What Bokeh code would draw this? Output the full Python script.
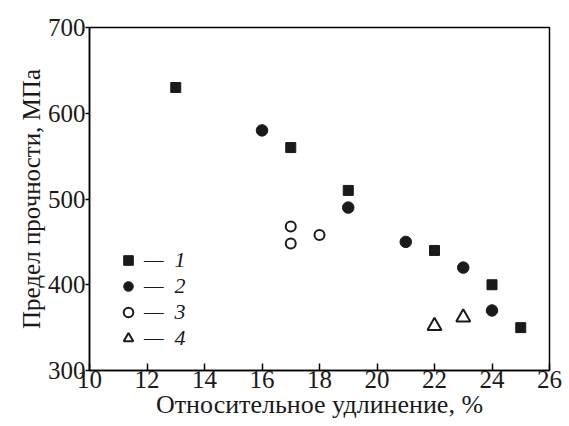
from bokeh.plotting import figure
from bokeh.models import Legend, LegendItem, FixedTicker, Range1d
from bokeh.embed import file_html
from bokeh.resources import INLINE

# Series data (elongation %, strength MPa)
s1_x = [13, 17, 19, 22, 24, 25]
s1_y = [630, 560, 510, 440, 400, 350]
s2_x = [16, 19, 21, 23, 24]
s2_y = [580, 490, 450, 420, 370]
s3_x = [17, 17, 18]
s3_y = [468, 448, 458]
s4_x = [22, 23]
s4_y = [352, 362]
labels = ["—\u20021", "—\u20022", "—\u20023", "—\u20024"]
x_ticks = [10, 12, 14, 16, 18, 20, 22, 24, 26]
y_ticks = [300, 400, 500, 600, 700]

FONT = "Liberation Serif"
INK = "#1a1a1a"

p = figure(width=566, height=426, output_backend="svg", toolbar_location=None,
           x_range=Range1d(10, 26), y_range=Range1d(300, 700),
           min_border_left=89, min_border_right=17, min_border_top=27, min_border_bottom=56)
p.grid.visible = False
p.outline_line_color = "black"
p.outline_line_width = 1.5
p.background_fill_color = "white"
p.border_fill_color = "white"

r1 = p.scatter(s1_x, s1_y, marker="square", size=10, fill_color=INK, line_color=INK)
r2 = p.scatter(s2_x, s2_y, marker="circle", size=11.5, fill_color=INK, line_color=INK)
r3 = p.scatter(s3_x, s3_y, marker="circle", size=10, fill_color="white", line_color=INK, line_width=2)
r4 = p.scatter(s4_x, s4_y, marker="triangle", size=14, fill_color="white", line_color=INK, line_width=2)

for ax in (p.xaxis[0], p.yaxis[0]):
    ax.axis_line_color = "black"
    ax.axis_line_width = 1.5
    ax.major_tick_line_color = "black"
    ax.major_tick_line_width = 1.5
    ax.minor_tick_line_color = None
    ax.major_label_text_font = FONT
    ax.major_label_text_font_size = "25px"
    ax.major_label_text_color = INK
    ax.axis_label_text_font = FONT
    ax.axis_label_text_font_style = "normal"
    ax.axis_label_text_color = INK

p.xaxis.axis_label_text_font_size = "26px"
p.yaxis.axis_label_text_font_size = "25px"
p.xaxis.ticker = FixedTicker(ticks=x_ticks)
p.yaxis.ticker = FixedTicker(ticks=y_ticks)
p.xaxis.major_tick_in = 7
p.xaxis.major_tick_out = 0
p.yaxis.major_tick_in = 0
p.yaxis.major_tick_out = 4
p.xaxis.major_label_standoff = 0
p.yaxis.major_label_standoff = 0
p.xaxis.axis_label = "Относительное удлинение, %"
p.yaxis.axis_label = "Предел прочности, МПа"
p.xaxis.axis_label_standoff = -1
p.yaxis.axis_label_standoff = 0

legend = Legend(items=[LegendItem(label=labels[0], renderers=[r1]),
                       LegendItem(label=labels[1], renderers=[r2]),
                       LegendItem(label=labels[2], renderers=[r3]),
                       LegendItem(label=labels[3], renderers=[r4])],
                location=(25, 19), border_line_color=None, background_fill_alpha=0,
                label_text_font=FONT, label_text_font_size="22px", label_text_font_style="italic",
                label_text_color=INK, glyph_width=28, glyph_height=24,
                spacing=0, padding=0, margin=0, label_standoff=2, label_height=24)
p.add_layout(legend)

open("out.html", "w").write(file_html(p, INLINE))
